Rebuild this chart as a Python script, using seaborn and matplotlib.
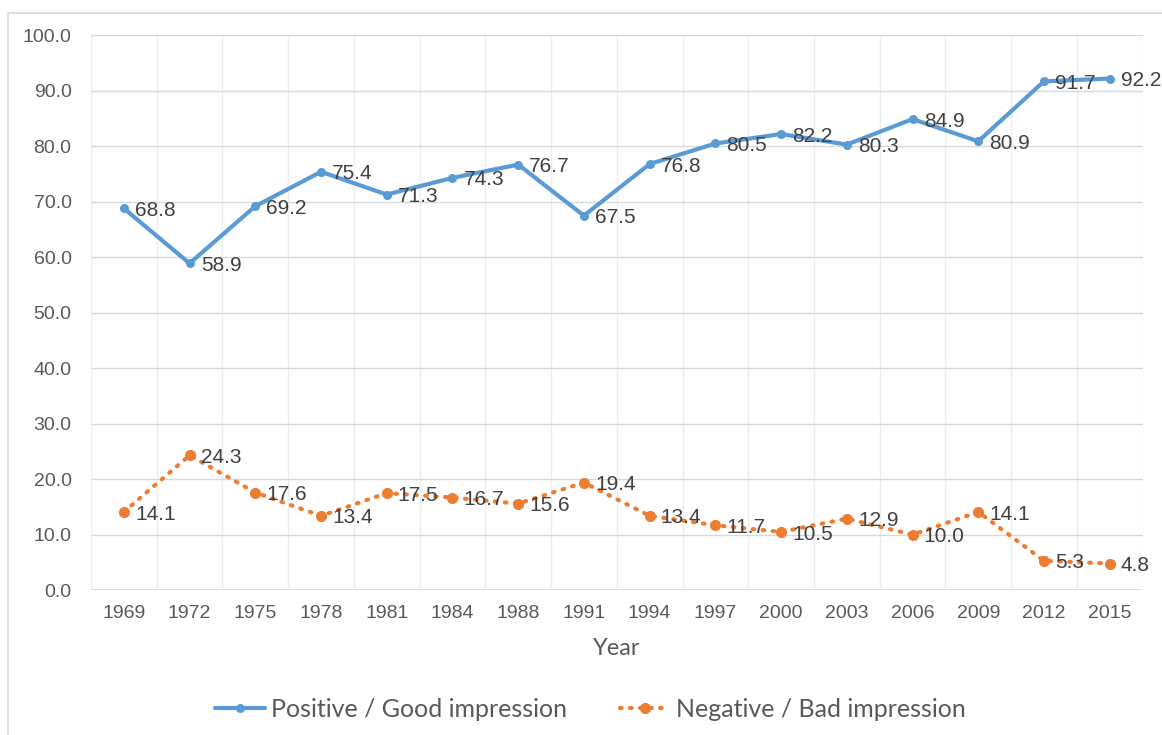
import pandas as pd
import seaborn as sns
import matplotlib.pyplot as plt
from matplotlib.lines import Line2D
from matplotlib.patches import Rectangle

# Data
years = ['1969', '1972', '1975', '1978', '1981', '1984', '1988', '1991',
         '1994', '1997', '2000', '2003', '2006', '2009', '2012', '2015']
positive = [68.8, 58.9, 69.2, 75.4, 71.3, 74.3, 76.7, 67.5,
            76.8, 80.5, 82.2, 80.3, 84.9, 80.9, 91.7, 92.2]
negative = [14.1, 24.3, 17.6, 13.4, 17.5, 16.7, 15.6, 19.4,
            13.4, 11.7, 10.5, 12.9, 10.0, 14.1, 5.3, 4.8]
pos_label = 'Positive / Good impression'
neg_label = 'Negative / Bad impression'

df = pd.DataFrame({'year': years, 'positive': positive, 'negative': negative})
df['pos'] = range(len(df))

blue = '#5b9bd5'
orange = '#ed7d31'
tick_color = '#595959'
dots = (0, (0.4, 2.0))

sns.set_style('white')
plt.rcParams['font.family'] = ['Liberation Sans', 'DejaVu Sans']

fig = plt.figure(figsize=(11.62, 7.35), dpi=100)
ax = fig.add_axes([0.0783, 0.197, 0.905, 0.755])

# outer chart border
fig.patches.append(Rectangle((8 / 1162, -0.1), 1.2, (735 - 13) / 735 + 0.1,
                             transform=fig.transFigure, fill=False,
                             edgecolor='#d9d9d9', linewidth=1.2))

sns.lineplot(data=df, x='pos', y='positive', ax=ax, color=blue, linewidth=3,
             marker='o', markersize=6.5, markeredgewidth=0, zorder=3)
sns.lineplot(data=df, x='pos', y='negative', ax=ax, color=orange, linewidth=3,
             linestyle=dots, dash_capstyle='round',
             marker='o', markersize=8, markeredgewidth=0, zorder=3)

# data labels to the right of each point
for i, row in df.iterrows():
    for col in ['positive', 'negative']:
        ax.annotate(f'{row[col]:.1f}', (row['pos'], row[col]),
                    xytext=(8, -1.5), textcoords='offset points',
                    ha='left', va='center', fontsize=15, color='#404040',
                    zorder=4)

ax.set_xlim(-0.5, len(df) - 0.5)
ax.set_ylim(0, 100)
ax.set_yticks(range(0, 101, 10))
ax.set_yticklabels([f'{v:.1f}' for v in range(0, 101, 10)])
ax.set_xticks(df['pos'])
ax.set_xticklabels(df['year'])
ax.tick_params(axis='both', length=0, labelsize=14, labelcolor=tick_color)
ax.tick_params(axis='y', pad=14)
ax.tick_params(axis='x', pad=11)

# gridlines: horizontal at values, vertical between categories
ax.grid(axis='y', color='#d9d9d9', linewidth=1)
for b in range(len(df) + 1):
    ax.axvline(b - 0.5, color='#ededed', linewidth=1, zorder=0)
for s in ax.spines.values():
    s.set_visible(False)
ax.axhline(0, color='#d9d9d9', linewidth=1.2, zorder=1)

ax.set_xlabel('Year', family=['Lato', 'DejaVu Sans'], fontsize=17,
              color=tick_color, labelpad=11)
ax.set_ylabel('')

handles = [
    Line2D([], [], color=blue, linewidth=3, marker='o', markersize=6.5,
           markeredgewidth=0),
    Line2D([], [], color=orange, linewidth=3, linestyle=dots,
           dash_capstyle='round', marker='o', markersize=8, markeredgewidth=0),
]
fig.legend(handles, [pos_label, neg_label], loc='center',
           bbox_to_anchor=(0.508, 0.035), ncol=2, frameon=False,
           prop={'family': ['Lato', 'DejaVu Sans'], 'size': 18},
           labelcolor=tick_color, handlelength=2.0, handletextpad=0.25,
           columnspacing=2.1)

fig.savefig('out.png', dpi=100)
